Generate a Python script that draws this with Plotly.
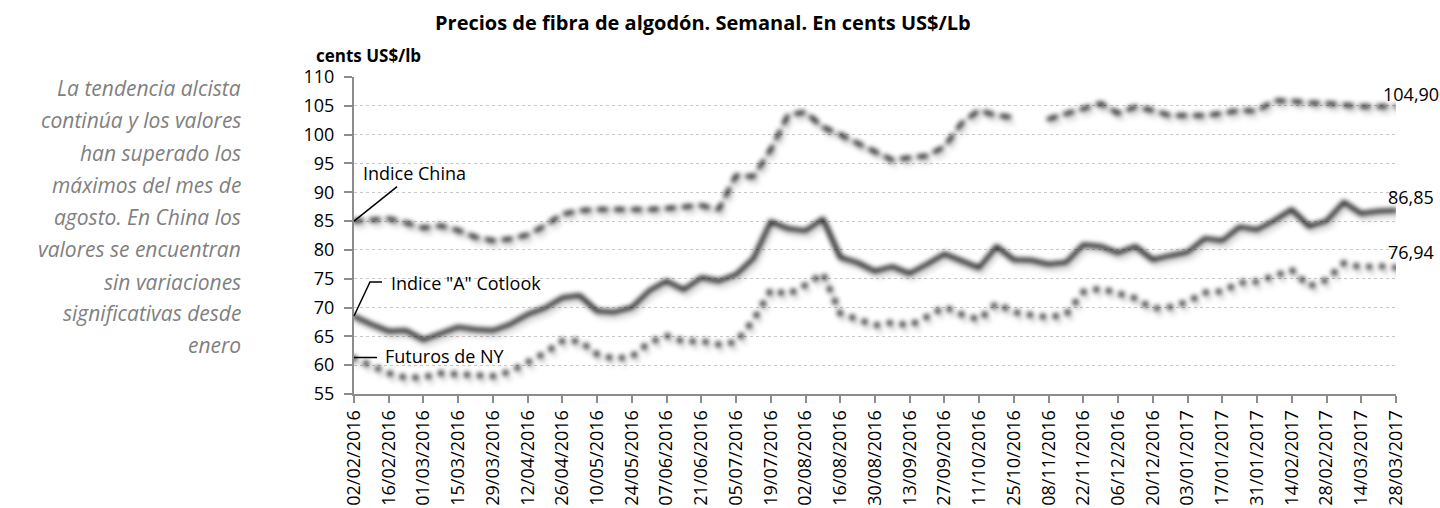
import pandas as pd
import plotly.graph_objects as go

# ---------------- data ----------------
weeks = pd.date_range("2016-02-02", periods=61, freq="7D").strftime("%d/%m/%Y").tolist()

tick_labels = [
    "02/02/2016", "16/02/2016", "01/03/2016", "15/03/2016", "29/03/2016", "12/04/2016",
    "26/04/2016", "10/05/2016", "24/05/2016", "07/06/2016", "21/06/2016", "05/07/2016",
    "19/07/2016", "02/08/2016", "16/08/2016", "30/08/2016", "13/09/2016", "27/09/2016",
    "11/10/2016", "25/10/2016", "08/11/2016", "22/11/2016", "06/12/2016", "20/12/2016",
    "03/01/2017", "17/01/2017", "31/01/2017", "14/02/2017", "28/02/2017", "14/03/2017",
    "28/03/2017",
]

indice_china = [
    85.0, 85.2, 85.4, 84.7, 83.8, 84.2, 83.4, 82.2, 81.6, 81.9, 82.6, 84.2, 86.2,
    86.8, 87.0, 87.0, 87.0, 87.0, 87.2, 87.4, 87.7, 87.0, 92.9, 92.7, 97.4,
    103.4, 103.9, 101.3, 100.0, 98.5, 97.1, 95.6, 96.0, 96.3, 97.9, 102.0, 104.2,
    103.3, 103.0, None, 102.7, 103.6, 104.6, 105.4, 103.7, 104.8, 104.2, 103.3, 103.3,
    103.3, 103.7, 104.2, 104.1, 105.9, 105.8, 105.5, 105.4, 105.2, 104.9, 104.9, 104.90,
]

indice_a_cotlook = [
    68.5, 67.1, 65.9, 66.0, 64.4, 65.5, 66.6, 66.2, 66.0, 67.1, 68.8, 69.9, 71.7,
    72.1, 69.4, 69.2, 70.0, 72.9, 74.6, 73.1, 75.2, 74.6, 75.7, 78.5, 84.9,
    83.7, 83.3, 85.4, 78.7, 77.8, 76.3, 77.1, 75.9, 77.5, 79.3, 78.1, 76.9,
    80.6, 78.3, 78.2, 77.5, 77.8, 80.9, 80.6, 79.5, 80.6, 78.3, 79.0, 79.6,
    82.0, 81.6, 84.0, 83.5, 85.1, 87.0, 84.1, 85.0, 88.3, 86.3, 86.7, 86.85,
]

futuros_ny = [
    61.2, 60.0, 58.6, 57.8, 57.9, 58.6, 58.4, 58.2, 58.1, 58.9, 60.5, 62.1, 64.2,
    64.2, 61.9, 61.1, 61.5, 63.9, 65.1, 64.1, 64.2, 63.6, 64.0, 67.8, 73.0,
    72.3, 73.9, 75.9, 69.0, 67.9, 66.9, 67.4, 66.9, 68.4, 70.1, 68.8, 67.9,
    70.7, 69.2, 68.7, 68.3, 68.8, 72.7, 73.3, 72.4, 71.6, 69.8, 70.1, 71.0,
    72.6, 72.8, 74.3, 74.5, 75.6, 76.5, 73.7, 74.8, 77.7, 77.0, 77.2, 76.94,
]

series_names = ["Indice China", 'Indice "A" Cotlook', "Futuros de NY"]

title_text = "Precios de fibra de algodón. Semanal. En cents US$/Lb"
y_unit = "cents US$/lb"
comment_lines = [
    "La tendencia alcista", "continúa y los valores", "han superado los",
    "máximos del mes de", "agosto. En China los", "valores se encuentran",
    "sin variaciones", "significativas desde", "enero",
]

# ---------------- layout geometry ----------------
W, H = 1440, 508
L, R, T, B = 354, 44, 77, 114
PW, PH = W - L - R, H - T - B
FONT = "Open Sans"


def px(xp):
    return (xp - L) / PW


def py(yp):
    return (H - B - yp) / PH


y_min, y_max = 55, 110
n_cat = len(weeks) - 1
# shadow offsets (px -> data units)
sx = 3 * n_cat / PW
sy = 5.5 * (y_max - y_min) / PH

styles = [
    dict(dash="8px,9px", width=4),
    dict(dash="solid", width=4),
    dict(dash="0.5px,12.5px", width=5.5),
]
all_series = [indice_china, indice_a_cotlook, futuros_ny]

fig = go.Figure()

# shadows on base (hidden) axes, shifted
for s, st in zip(all_series, styles):
    fig.add_trace(go.Scatter(
        x=weeks, y=s, mode="lines", xaxis="x", yaxis="y", showlegend=False,
        hoverinfo="skip", connectgaps=False,
        line=dict(color="rgba(0,0,0,0.12)", width=st["width"] + 1, dash=st["dash"]),
    ))

# main series
for s, st, name in zip(all_series, styles, series_names):
    fig.add_trace(go.Scatter(
        x=weeks, y=s, mode="lines", xaxis="x2", yaxis="y2", name=name,
        showlegend=False, connectgaps=False,
        line=dict(color="black", width=st["width"], dash=st["dash"]),
    ))

axis_grey = "#8c8c8c"
fig.update_layout(
    width=W, height=H,
    margin=dict(l=L, r=R, t=T, b=B),
    paper_bgcolor="white", plot_bgcolor="white",
    font=dict(family=FONT, size=18, color="black"),
    xaxis=dict(type="category", range=[-sx, n_cat - sx], visible=False,
               showgrid=False, categoryorder="array", categoryarray=weeks),
    yaxis=dict(range=[y_min + sy, y_max + sy], visible=False, showgrid=False),
    xaxis2=dict(
        type="category", overlaying="x", anchor="y2", range=[0, n_cat],
        categoryorder="array", categoryarray=weeks,
        tickmode="array", tickvals=tick_labels, ticktext=tick_labels,
        tickangle=-90, ticks="outside", ticklen=7, tickcolor=axis_grey, tickwidth=1.5,
        showline=True, linecolor=axis_grey, linewidth=2, showgrid=False,
        tickfont=dict(family=FONT, size=18, color="black"), automargin=False,
    ),
    yaxis2=dict(
        overlaying="y", anchor="x2", side="left", range=[y_min, y_max], dtick=5,
        tick0=55, ticks="outside", ticklen=8, tickcolor=axis_grey, tickwidth=1.5,
        showline=True, linecolor=axis_grey, linewidth=2, ticklabelstandoff=6,
        showgrid=True, gridcolor="#c8c8c8", gridwidth=1, griddash="dot",
        zeroline=False, tickfont=dict(family=FONT, size=18, color="black"),
        automargin=False,
    ),
)

ann = []
# title and unit
ann.append(dict(text="<b>%s</b>" % title_text, xref="paper", yref="paper",
                x=px(703), y=py(23), xanchor="center", yanchor="middle",
                showarrow=False, font=dict(family=FONT, size=20, color="black")))
ann.append(dict(text="<b>%s</b>" % y_unit, xref="paper", yref="paper",
                x=px(314), y=py(55), xanchor="left", yanchor="middle",
                showarrow=False, font=dict(family=FONT, size=17, color="black")))
# left comment
line_y = [88, 120, 153, 185, 217, 249, 282, 313, 345]
for t, yy in zip(comment_lines, line_y):
    ann.append(dict(text="<i>%s</i>" % t, xref="paper", yref="paper",
                    x=px(243), y=py(yy), xanchor="right", yanchor="middle",
                    showarrow=False, font=dict(family=FONT, size=21, color="#7f7f7f")))
# series labels
ann.append(dict(text=series_names[0], xref="x2", yref="y2", x=weeks[0], y=indice_china[0],
                showarrow=True, arrowhead=0, arrowwidth=1.5, arrowcolor="black",
                ax=60, ay=-48, standoff=0, font=dict(family=FONT, size=18, color="black")))
ann.append(dict(text=series_names[1], xref="paper", yref="paper",
                x=px(389), y=py(283), xanchor="left", yanchor="middle",
                showarrow=False, font=dict(family=FONT, size=18, color="black")))
ann.append(dict(text=series_names[2], xref="paper", yref="paper",
                x=px(383), y=py(356), xanchor="left", yanchor="middle",
                showarrow=False, font=dict(family=FONT, size=18, color="black")))
# end labels
for s, ys in zip(all_series, [12, 13, 16]):
    ann.append(dict(text=f"{s[-1]:.2f}".replace(".", ","), xref="x2", yref="y2",
                    x=weeks[-1], y=s[-1], xshift=15, yshift=ys, showarrow=False,
                    font=dict(family=FONT, size=18, color="black")))
fig.update_layout(annotations=ann)

# leader lines
fig.add_shape(type="path", xref="paper", yref="paper",
              path=f"M {px(354)} {py(316)} L {px(370)} {py(282)} L {px(382)} {py(282)}",
              line=dict(color="black", width=1.5))
fig.add_shape(type="line", xref="paper", yref="paper",
              x0=px(354), y0=py(357.5), x1=px(377), y1=py(357.5),
              line=dict(color="black", width=1.5))

post = ("document.body.style.margin='0';"
        "var s=document.createElement('style');"
        "s.innerHTML='body{margin:0;} .scatterlayer path.js-line{stroke-linecap:round;stroke-linejoin:round;}"
        " .xy .scatterlayer path.js-line{filter:blur(2.5px);}';"
        "document.head.appendChild(s);")

fig.write_html("out.html", post_script=post, config={"displayModeBar": False})
